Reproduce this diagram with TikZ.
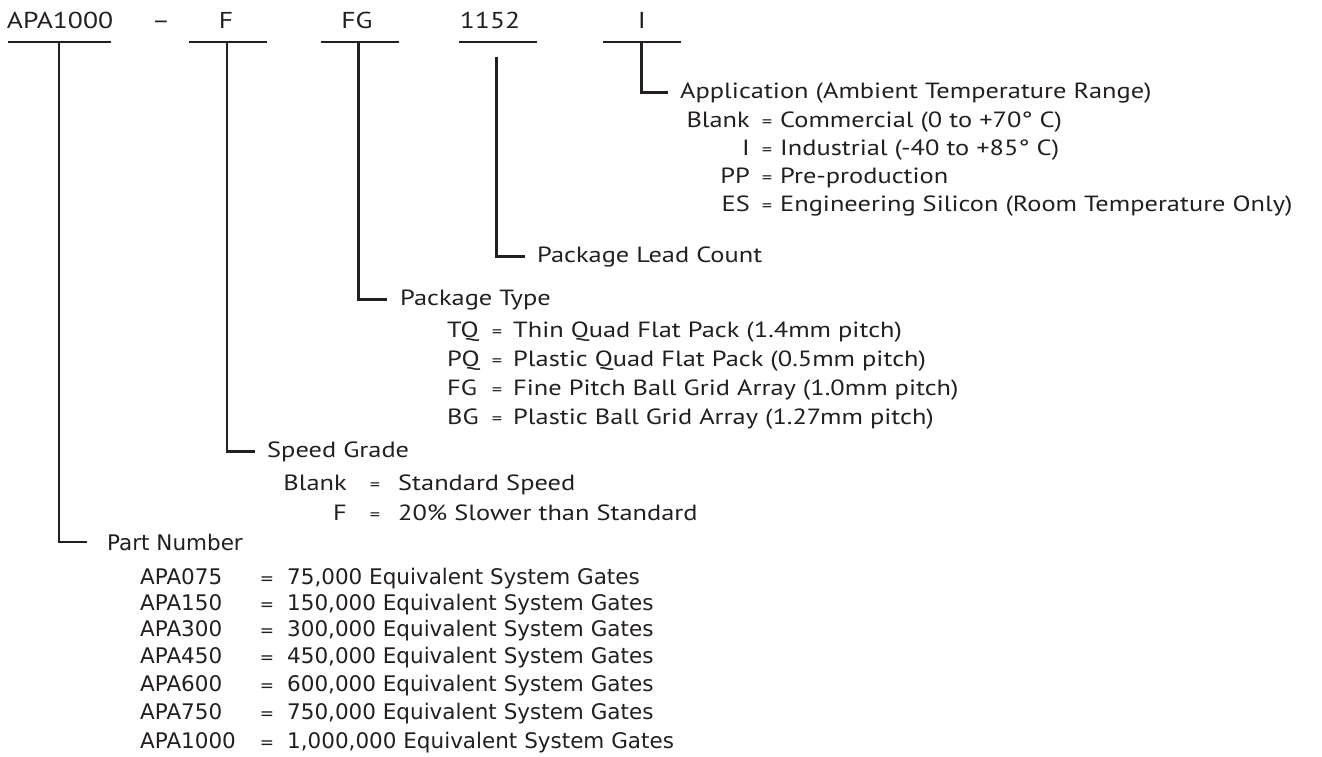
\documentclass[tikz,border=0pt]{standalone}
\usepackage{fontspec}
\setmainfont{PT Sans}[FakeStretch=1.2]
\newfontfamily\partfont{DejaVu Sans}
\definecolor{ink}{RGB}{35,31,32}

\begin{document}
\begin{tikzpicture}[x=1pt,y=-1pt,
  every node/.style={inner sep=0pt,text=ink},
  pnlabel/.style={anchor=base,font=\fontsize{23}{26}\selectfont},
  txt/.style={font=\fontsize{22}{25}\selectfont},
  eqsign/.style={anchor=base,font=\fontsize{17}{20}\selectfont},
  heading/.style={txt,anchor=base west,inner xsep=12pt},
  partfnt/.style={font=\partfont\fontsize{21.5}{24}\selectfont},
  parteq/.style={anchor=base,font=\partfont\fontsize{17}{20}\selectfont},
  underbar/.style={draw=ink,line width=2.8pt},
  leader/.style={draw=ink,line width=2.8pt}]
\useasboundingbox (0,0) rectangle (1322,756);
% ordering code
\node[pnlabel] (base) at (60,28) {APA1000};
\node[pnlabel] (dash) at (161,28) {–};
\node[pnlabel] (grade) at (226,28) {F};
\node[pnlabel] (pkg) at (357,28) {FG};
\node[pnlabel] (pins) at (490,28) {1152};
\node[pnlabel] (appl) at (642,28) {I};
\draw[underbar] (8,42) -- (111,42);
\draw[underbar] (189,42) -- (267,42);
\draw[underbar] (321,42) -- (399,42);
\draw[underbar] (459,42) -- (537,42);
\draw[underbar] (603,42) -- (681,42);
\coordinate (base-t) at (59,42);
\coordinate (grade-t) at (227,42);
\coordinate (pkg-t) at (358.5,42);
\coordinate (pins-t) at (496.5,57);
\coordinate (appl-t) at (641.5,42);
% field headings
\node[heading] (applhd) at (668,98) {Application (Ambient Temperature Range)};
\node[heading] (pinshd) at (525,262) {Package Lead Count};
\node[heading,inner xsep=13pt] (pkghd) at (387,305) {Package Type};
\node[heading] (gradehd) at (255,457) {Speed Grade};
\node[heading,partfnt,inner xsep=20pt] (basehd) at (87,550) {Part Number};
\draw[leader] (appl-t) |- (applhd.west);
\draw[leader] (pins-t) |- (pinshd.west);
\draw[leader] (pkg-t) |- (pkghd.west);
\draw[leader] (grade-t) |- (gradehd.west);
\draw[leader] (base-t) |- (basehd.west);
% application
\node[txt,anchor=base east] (appl-k1) at (750,127) {Blank};
\node[eqsign] (appl-e1) at (767,127) {=};
\node[txt,anchor=base west] (appl-v1) at (780,127) {Commercial (0 to +70° C)};
\node[txt,anchor=base east] (appl-k2) at (750,155) {I};
\node[eqsign] (appl-e2) at (767,155) {=};
\node[txt,anchor=base west] (appl-v2) at (780,155) {Industrial (-40 to +85° C)};
\node[txt,anchor=base east] (appl-k3) at (750,183) {PP};
\node[eqsign] (appl-e3) at (767,183) {=};
\node[txt,anchor=base west] (appl-v3) at (780,183) {Pre-production};
\node[txt,anchor=base east] (appl-k4) at (750,211) {ES};
\node[eqsign] (appl-e4) at (767,211) {=};
\node[txt,anchor=base west] (appl-v4) at (780,211) {Engineering Silicon (Room Temperature Only)};
% package type
\node[txt,anchor=base west] (pkg-k1) at (447,337) {TQ};
\node[eqsign] (pkg-e1) at (497,337) {=};
\node[txt,anchor=base west] (pkg-v1) at (513,337) {Thin Quad Flat Pack (1.4mm pitch)};
\node[txt,anchor=base west] (pkg-k2) at (447,366) {PQ};
\node[eqsign] (pkg-e2) at (497,366) {=};
\node[txt,anchor=base west] (pkg-v2) at (513,366) {Plastic Quad Flat Pack (0.5mm pitch)};
\node[txt,anchor=base west] (pkg-k3) at (447,395) {FG};
\node[eqsign] (pkg-e3) at (497,395) {=};
\node[txt,anchor=base west] (pkg-v3) at (513,395) {Fine Pitch Ball Grid Array (1.0mm pitch)};
\node[txt,anchor=base west] (pkg-k4) at (447,424) {BG};
\node[eqsign] (pkg-e4) at (497,424) {=};
\node[txt,anchor=base west] (pkg-v4) at (513,424) {Plastic Ball Grid Array (1.27mm pitch)};
% speed grade
\node[txt,anchor=base east] (grade-k1) at (347,490) {Blank};
\node[eqsign] (grade-e1) at (375,490) {=};
\node[txt,anchor=base west] (grade-v1) at (398,490) {Standard Speed};
\node[txt,anchor=base east] (grade-k2) at (347,520) {F};
\node[eqsign] (grade-e2) at (375,520) {=};
\node[txt,anchor=base west] (grade-v2) at (398,520) {20\% Slower than Standard};
% part number
\node[partfnt,anchor=base west] (base-k1) at (140,584) {APA075};
\node[parteq] (base-e1) at (267,584) {=};
\node[partfnt,anchor=base west] (base-v1) at (287,584) {75,000 Equivalent System Gates};
\node[partfnt,anchor=base west] (base-k2) at (140,610) {APA150};
\node[parteq] (base-e2) at (267,610) {=};
\node[partfnt,anchor=base west] (base-v2) at (287,610) {150,000 Equivalent System Gates};
\node[partfnt,anchor=base west] (base-k3) at (140,636) {APA300};
\node[parteq] (base-e3) at (267,636) {=};
\node[partfnt,anchor=base west] (base-v3) at (287,636) {300,000 Equivalent System Gates};
\node[partfnt,anchor=base west] (base-k4) at (140,663) {APA450};
\node[parteq] (base-e4) at (267,663) {=};
\node[partfnt,anchor=base west] (base-v4) at (287,663) {450,000 Equivalent System Gates};
\node[partfnt,anchor=base west] (base-k5) at (140,691) {APA600};
\node[parteq] (base-e5) at (267,691) {=};
\node[partfnt,anchor=base west] (base-v5) at (287,691) {600,000 Equivalent System Gates};
\node[partfnt,anchor=base west] (base-k6) at (140,719) {APA750};
\node[parteq] (base-e6) at (267,719) {=};
\node[partfnt,anchor=base west] (base-v6) at (287,719) {750,000 Equivalent System Gates};
\node[partfnt,anchor=base west] (base-k7) at (140,748) {APA1000};
\node[parteq] (base-e7) at (267,748) {=};
\node[partfnt,anchor=base west] (base-v7) at (287,748) {1,000,000 Equivalent System Gates};
\end{tikzpicture}
\end{document}
